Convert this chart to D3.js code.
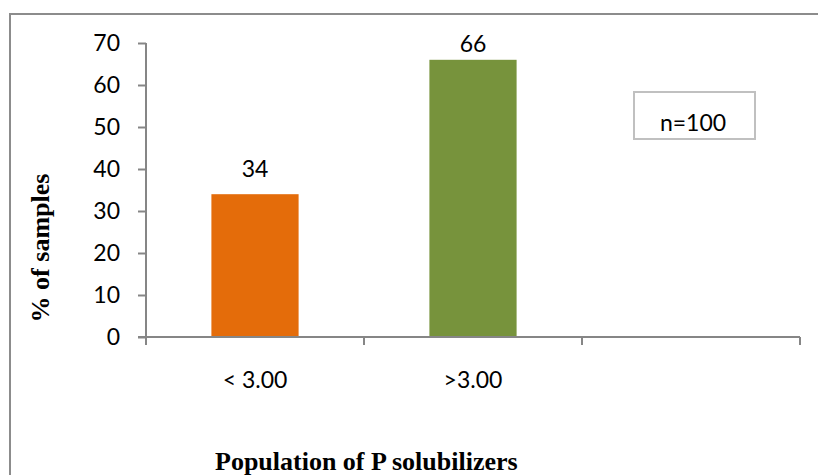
<html>
<script src="https://d3js.org/d3.v7.min.js"></script>
<style>
  body { margin: 0; background: #fff; }
  text { fill: #000; }
</style>
<body>
<svg width="818" height="475"></svg>
<script>
// chart data
var categories = ["< 3.00", ">3.00", ""];
var values = [34, 66, null];
var barColors = ["#E46C0A", "#77933C"];
var yTicks = [0, 10, 20, 30, 40, 50, 60, 70];
var note = "n=100";

var svg = d3.select("svg");
var axisColor = "#868686";
var labelFont = "Lato, 'Open Sans', sans-serif";
var titleFont = "'Liberation Serif', 'Times New Roman', serif";

// outer chart frame (right and bottom edges fall outside the picture)
svg.append("rect").attr("x", 10).attr("y", 14).attr("width", 900).attr("height", 600)
  .attr("fill", "none").attr("stroke", "#8c8c8c").attr("stroke-width", 2);

// scales
var x = d3.scaleBand().domain(categories).range([146, 800]).paddingInner(0.6).paddingOuter(0.3);
var xCat = d3.scaleBand().domain(categories).range([146, 800]);
var y = d3.scaleLinear().domain([0, 70]).range([337, 43]);

// bars
svg.append("g").selectAll("rect").data(values.slice(0, 2)).enter().append("rect")
  .attr("x", function(d, i) { return x(categories[i]); })
  .attr("y", function(d) { return y(d); })
  .attr("width", x.bandwidth())
  .attr("height", function(d) { return y(0) - y(d); })
  .attr("fill", function(d, i) { return barColors[i]; });

// y axis
var yAxis = svg.append("g").attr("transform", "translate(146,0)")
  .call(d3.axisLeft(y).tickValues(yTicks).tickSize(8).tickPadding(18).tickSizeOuter(0));
yAxis.select(".domain").attr("stroke", axisColor).attr("stroke-width", 2)
  .attr("d", "M0," + y(70) + "V" + (y(0) + 8));
yAxis.selectAll(".tick line").attr("stroke", axisColor).attr("stroke-width", 2);
yAxis.selectAll(".tick text").attr("font-family", labelFont).attr("font-size", 23).attr("fill", "#000");

// x axis: ticks at category boundaries
var xAxis = svg.append("g").attr("transform", "translate(0," + y(0) + ")");
xAxis.append("line").attr("x1", 138).attr("x2", 800).attr("stroke", axisColor).attr("stroke-width", 2);
xAxis.selectAll(".bnd").data(categories.slice(1).concat(["end"])).enter().append("line")
  .attr("x1", function(d, i) { return i < 2 ? xCat(d) : 800; })
  .attr("x2", function(d, i) { return i < 2 ? xCat(d) : 800; })
  .attr("y1", 0).attr("y2", 8)
  .attr("stroke", axisColor).attr("stroke-width", 2);
xAxis.selectAll(".lbl").data(categories).enter().append("text")
  .attr("x", function(d) { return xCat(d) + xCat.bandwidth() / 2; })
  .attr("y", 51)
  .attr("text-anchor", "middle")
  .attr("font-family", labelFont).attr("font-size", 23)
  .text(function(d) { return d; });

// value labels
svg.append("g").selectAll("text").data(values.slice(0, 2)).enter().append("text")
  .attr("x", function(d, i) { return x(categories[i]) + x.bandwidth() / 2; })
  .attr("y", function(d) { return Math.max(y(d) - 17, 52); })
  .attr("text-anchor", "middle")
  .attr("font-family", labelFont).attr("font-size", 23)
  .text(function(d) { return d; });

// n=100 box
svg.append("rect").attr("x", 634).attr("y", 92).attr("width", 121).attr("height", 47)
  .attr("fill", "#fff").attr("stroke", "#c0c0c0").attr("stroke-width", 2);
svg.append("text").attr("x", 693).attr("y", 131).attr("text-anchor", "middle")
  .attr("font-family", labelFont).attr("font-size", 23).text(note);

// axis titles
svg.append("text").attr("transform", "translate(49,248) rotate(-90)")
  .attr("text-anchor", "middle").attr("font-family", titleFont)
  .attr("font-weight", "bold").attr("font-size", 26).text("% of samples");
svg.append("text").attr("x", 215).attr("y", 470)
  .attr("font-family", titleFont)
  .attr("font-weight", "bold").attr("font-size", 26).text("Population of P solubilizers");
</script>
</body>
</html>
